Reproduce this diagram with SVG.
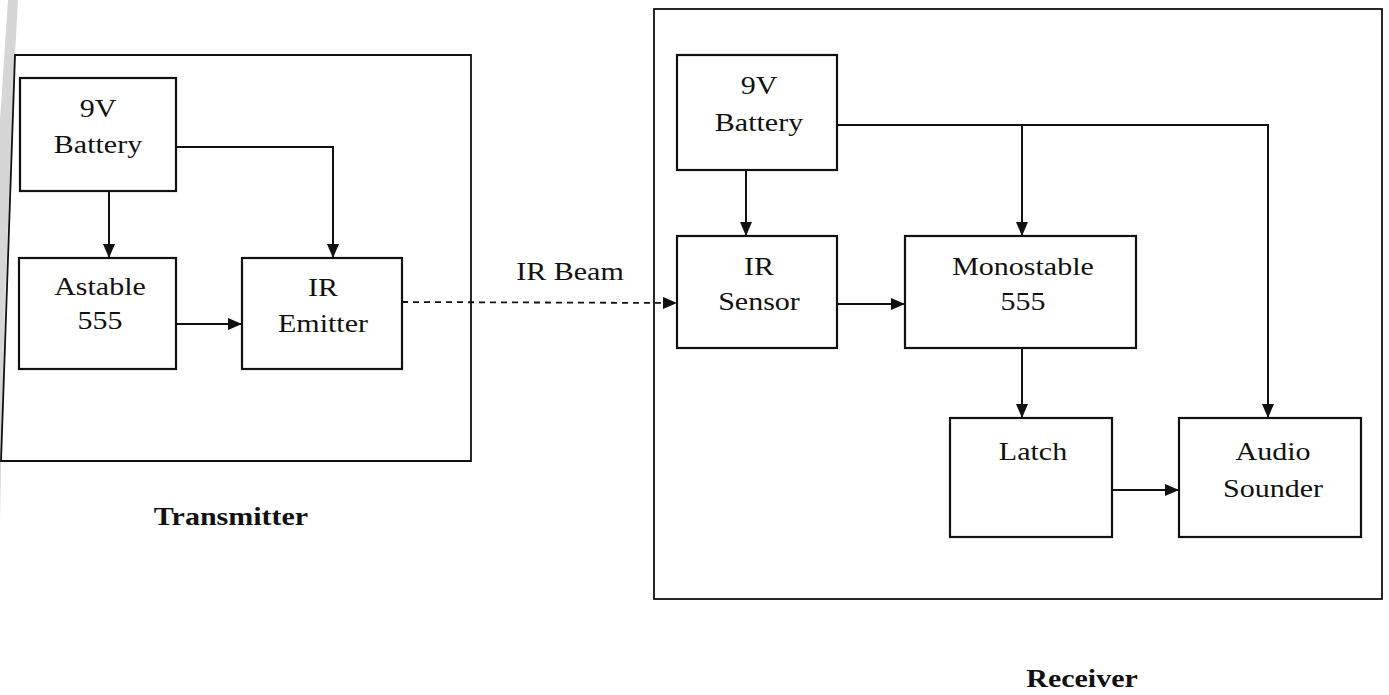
<svg xmlns="http://www.w3.org/2000/svg" width="1389" height="695" viewBox="0 0 1389 695">
<style>
.box{fill:none;stroke:#111;stroke-width:2.2}
.frame{fill:none;stroke:#111;stroke-width:1.8}
.wire{fill:none;stroke:#111;stroke-width:2}
.dash{fill:none;stroke:#111;stroke-width:1.8;stroke-dasharray:6 5}
.lbl{font-family:"Liberation Serif","Times New Roman",serif;font-size:25px;fill:#111;text-anchor:middle}
.cap{font-family:"Liberation Serif","Times New Roman",serif;font-size:25px;font-weight:bold;fill:#111;text-anchor:middle}
</style>
<defs>
<marker id="ah" viewBox="0 0 14 12" refX="14" refY="6" markerWidth="14" markerHeight="12" markerUnits="userSpaceOnUse" orient="auto">
<path d="M0,0 L14,6 L0,12 Z" fill="#111"/>
</marker>
</defs>
<rect width="1389" height="695" fill="#fff"/>
<polygon points="8,0 18,0 15,55 5,300 1,470 0,520 0,120" fill="#999" opacity="0.4"/>

<g id="transmitter-frame">
<polygon class="frame" points="15,55 471,55 471,461 1,461"/>
<text class="cap" transform="translate(231 525) scale(1.2 1)">Transmitter</text>
</g>
<g id="receiver-frame">
<rect class="frame" x="654" y="9" width="728" height="590"/>
<text class="cap" transform="translate(1082 687) scale(1.2 1)">Receiver</text>
</g>

<g id="tx-battery">
<rect class="box" x="20" y="78" width="156" height="113"/>
<text class="lbl" transform="translate(98 117) scale(1.2 1)">9V</text>
<text class="lbl" transform="translate(98 153) scale(1.2 1)">Battery</text>
</g>
<g id="astable">
<rect class="box" x="19" y="258" width="157" height="111"/>
<text class="lbl" transform="translate(100 295) scale(1.2 1)">Astable</text>
<text class="lbl" transform="translate(100 329) scale(1.2 1)">555</text>
</g>
<g id="ir-emitter">
<rect class="box" x="242" y="258" width="160" height="111"/>
<text class="lbl" transform="translate(323 296) scale(1.2 1)">IR</text>
<text class="lbl" transform="translate(323 332) scale(1.2 1)">Emitter</text>
</g>

<g id="rx-battery">
<rect class="box" x="677" y="55" width="160" height="115"/>
<text class="lbl" transform="translate(759 94) scale(1.2 1)">9V</text>
<text class="lbl" transform="translate(759 131) scale(1.2 1)">Battery</text>
</g>
<g id="ir-sensor">
<rect class="box" x="677" y="236" width="160" height="112"/>
<text class="lbl" transform="translate(759 275) scale(1.2 1)">IR</text>
<text class="lbl" transform="translate(759 310) scale(1.2 1)">Sensor</text>
</g>
<g id="monostable">
<rect class="box" x="905" y="236" width="231" height="112"/>
<text class="lbl" transform="translate(1023 275) scale(1.2 1)">Monostable</text>
<text class="lbl" transform="translate(1023 310) scale(1.2 1)">555</text>
</g>
<g id="latch">
<rect class="box" x="950" y="418" width="162" height="119"/>
<text class="lbl" transform="translate(1033 460) scale(1.2 1)">Latch</text>
</g>
<g id="audio-sounder">
<rect class="box" x="1179" y="418" width="182" height="119"/>
<text class="lbl" transform="translate(1273 460) scale(1.2 1)">Audio</text>
<text class="lbl" transform="translate(1273 497) scale(1.2 1)">Sounder</text>
</g>

<g id="connectors">
<path class="wire" d="M109,191 V258" marker-end="url(#ah)"/>
<path class="wire" d="M176,147 H333 V258" marker-end="url(#ah)"/>
<path class="wire" d="M176,324 H242" marker-end="url(#ah)"/>
<path class="dash" d="M402,302 L677,303" marker-end="url(#ah)"/>
<text class="lbl" transform="translate(570 280) scale(1.2 1)">IR Beam</text>
<path class="wire" d="M746,170 V236" marker-end="url(#ah)"/>
<path class="wire" d="M837,125 H1268 V418" marker-end="url(#ah)"/>
<path class="wire" d="M1022,125 V236" marker-end="url(#ah)"/>
<path class="wire" d="M837,304 H905" marker-end="url(#ah)"/>
<path class="wire" d="M1022,348 V418" marker-end="url(#ah)"/>
<path class="wire" d="M1112,490 H1179" marker-end="url(#ah)"/>
</g>
</svg>
